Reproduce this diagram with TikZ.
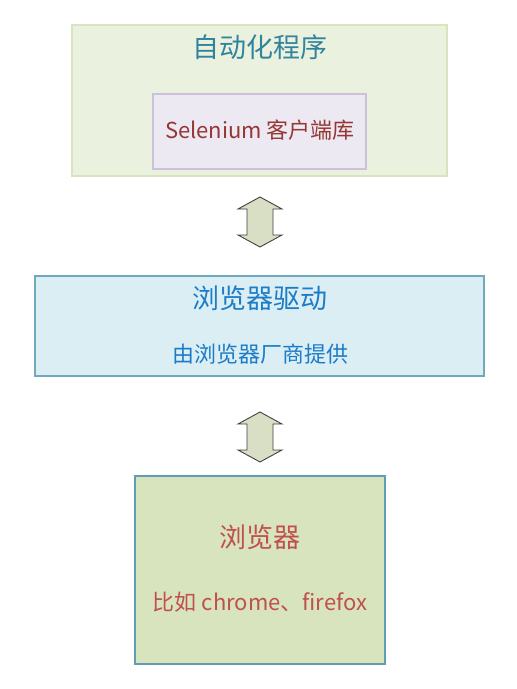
\documentclass[tikz,border=0pt]{standalone}
\usepackage{fontspec}
\setmainfont{Noto Sans CJK SC}
\usepackage{xcolor}
\usetikzlibrary{calc,positioning}
\definecolor{progfill}{HTML}{EBF1DF}
\definecolor{progline}{HTML}{D7E4BD}
\definecolor{libfill}{HTML}{EDE9F2}
\definecolor{libline}{HTML}{CCC1DA}
\definecolor{drvfill}{HTML}{DBEEF4}
\definecolor{drvline}{HTML}{6EA9BD}
\definecolor{brwfill}{HTML}{D7E4BD}
\definecolor{brwline}{HTML}{5E9DB5}
\definecolor{arrfill}{HTML}{D9DFC5}
\definecolor{tealtext}{HTML}{31849B}
\definecolor{redtext}{HTML}{953735}
\definecolor{bluetext}{HTML}{1C7CC8}
\definecolor{brwtext}{HTML}{C0504D}
\newcommand{\dblarrow}[1]{
	(238, #1-13) --
	(260, #1-25) --
	(282, #1-13) --
	(273, #1-13) --
	(273, #1+13) --
	(282, #1+13) --
	(260, #1+25) --
	(238, #1+13) --
	(247, #1+13) --
	(247, #1-13) --
	cycle;
	}
\tikzset{
	box/.style={draw, line width=1.2pt, inner sep=0pt},
	title/.style={font=\fontsize{27}{31}\selectfont},
	sub/.style={font=\fontsize{22}{26}\selectfont}
}

\begin{document}
\begin{tikzpicture}[x=1pt, y=-1pt]
	\useasboundingbox (0,0) rectangle (517,689);

	% boxes
	\node[box, draw=progline, fill=progfill, minimum width=375pt, minimum height=151pt] (prog) at (259.5,100.5) {};
	\node[box, draw=libline, fill=libfill, minimum width=213pt, minimum height=75pt] (lib) at (259.5,131.5) {};
	\node[box, draw=drvline, fill=drvfill, minimum width=449pt, minimum height=100pt] (drv) at (259.5,326) {};
	\node[box, draw=brwline, fill=brwfill, minimum width=250pt, minimum height=188pt] (brw) at (260,570) {};

	% texts
	\node[title, tealtext] (progtxt) at (260,47) {自动化程序};
	\node[sub, redtext] (libtxt) at (260,130) {Selenium 客户端库};
	\node[title, bluetext] (drvtxt) at (260,298) {浏览器驱动};
	\node[sub, bluetext] (drvsub) at (260,354) {由浏览器厂商提供};
	\node[title, brwtext] (brwtxt) at (260,537) {浏览器};
	\node[sub, brwtext] (brwsub) at (260,602) {比如 chrome、firefox};

	% arrows
	\draw[fill=arrfill, draw=black!75, line width=0.9pt]\dblarrow{222};
	\draw[fill=arrfill, draw=black!75, line width=0.9pt]\dblarrow{437};

\end{tikzpicture}
\end{document}
